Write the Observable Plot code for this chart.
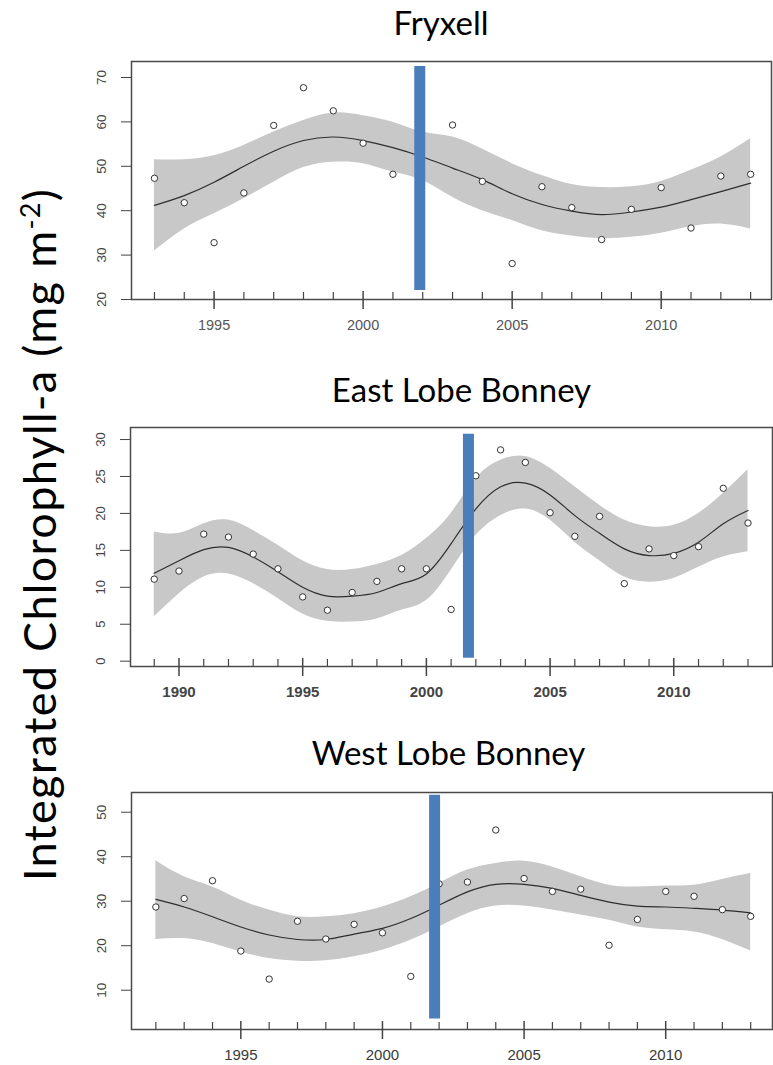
<!DOCTYPE html>
<html>
<head>
<meta charset="utf-8">
<script src="https://cdn.jsdelivr.net/npm/d3@7"></script>
<script src="https://cdn.jsdelivr.net/npm/@observablehq/plot@0.6"></script>
<style>
  body { margin: 0; background: #fff; }
  #wrap { position: relative; width: 773px; height: 1065px; overflow: hidden; background: #fff; }
  .title { position: absolute; font-family: Lato, "Open Sans", sans-serif; font-size: 33px; line-height: 1; color: #000; white-space: nowrap; transform: translateX(-50%); }
  .panel { position: absolute; left: 0; }
  #ylab { position: absolute; width: 800px; text-align: center; font-family: Lato, "Open Sans", sans-serif; font-size: 45px; letter-spacing: 1.3px; line-height: 1; height: 45px; color: #000; white-space: nowrap; transform: rotate(-90deg); transform-origin: 50% 50%; }
  #ylab .sup { font-size: 0.6em; vertical-align: 0.6em; }
</style>
</head>
<body>
<div id="wrap"></div>
<script>
// ---------------- Fryxell ----------------
const fryxPtYears = [1993, 1994, 1995, 1996, 1997, 1998, 1999, 2000, 2001, 2003, 2004, 2005, 2006, 2007, 2008, 2009, 2010, 2011, 2012, 2013];
const fryxPtVals  = [47.3, 41.8, 32.8, 44.0, 59.2, 67.7, 62.5, 55.2, 48.2, 59.3, 46.6, 28.1, 45.4, 40.7, 33.5, 40.3, 45.2, 36.1, 47.8, 48.2];
const fryxFitYears = [1993, 1994, 1995, 1996, 1997, 1998, 1999, 2000, 2001, 2002, 2003, 2004, 2005, 2006, 2007, 2008, 2009, 2010, 2011, 2012, 2013];
const fryxFit = [41.2, 43.4, 46.4, 50.0, 53.4, 55.8, 56.6, 55.8, 54.2, 52.1, 49.6, 47.0, 43.8, 41.4, 39.9, 39.1, 39.7, 40.8, 42.5, 44.3, 46.2];
const fryxHi  = [51.5, 51.5, 52.4, 54.7, 57.7, 60.3, 62.0, 61.4, 59.9, 57.7, 56.6, 53.9, 50.6, 47.9, 45.9, 45.2, 45.4, 46.6, 49.1, 52.1, 56.2];
const fryxLo  = [30.9, 35.9, 39.3, 42.7, 46.4, 49.7, 50.9, 50.6, 48.7, 46.8, 43.0, 40.0, 37.8, 35.5, 34.3, 33.7, 34.0, 34.9, 36.4, 37.0, 35.9];
const fryxYTicks = [20, 30, 40, 50, 60, 70];
const fryxXMajor = [1995, 2000, 2005, 2010];
const fryxXMinor = [1993, 1994, 1996, 1997, 1998, 1999, 2001, 2002, 2003, 2004, 2006, 2007, 2008, 2009, 2011, 2012, 2013];
const fryxBar = { year: 2001.9, lo: 22, hi: 72.5 };

// ---------------- East Lobe Bonney ----------------
const eastPtYears = [1989, 1990, 1991, 1992, 1993, 1994, 1995, 1996, 1997, 1998, 1999, 2000, 2001, 2002, 2003, 2004, 2005, 2006, 2007, 2008, 2009, 2010, 2011, 2012, 2013];
const eastPtVals  = [11.1, 12.2, 17.2, 16.8, 14.5, 12.5, 8.7, 6.9, 9.3, 10.8, 12.5, 12.5, 7.0, 25.1, 28.6, 26.9, 20.1, 16.9, 19.6, 10.5, 15.2, 14.3, 15.5, 23.4, 18.7];
const eastFitYears = [1989, 1990, 1991, 1992, 1993, 1994, 1995, 1996, 1997, 1998, 1999, 2000, 2001, 2002, 2003, 2004, 2005, 2006, 2007, 2008, 2009, 2010, 2011, 2012, 2013];
const eastFit = [11.9, 13.6, 15.1, 15.4, 14.1, 12.1, 10.0, 8.8, 8.8, 9.3, 10.5, 11.8, 15.9, 20.6, 23.6, 24.1, 22.5, 19.7, 17.3, 15.2, 14.3, 14.6, 16.1, 18.6, 20.4];
const eastHi  = [17.5, 17.3, 18.6, 19.1, 17.7, 15.7, 13.6, 12.4, 12.4, 13.1, 14.3, 16.6, 20.0, 24.7, 27.2, 27.7, 26.1, 23.6, 21.1, 19.1, 18.2, 18.4, 20.0, 22.7, 25.9];
const eastLo  = [6.0, 9.1, 11.4, 11.8, 10.5, 8.5, 6.4, 5.4, 5.3, 5.7, 6.9, 8.2, 12.3, 17.0, 19.7, 20.6, 19.1, 16.1, 13.6, 11.4, 10.7, 11.2, 12.7, 14.1, 14.8];
const eastYTicks = [0, 5, 10, 15, 20, 25, 30];
const eastXMajor = [1990, 1995, 2000, 2005, 2010];
const eastXMinor = [1989, 1991, 1992, 1993, 1994, 1996, 1997, 1998, 1999, 2001, 2002, 2003, 2004, 2006, 2007, 2008, 2009, 2011, 2012, 2013];
const eastBar = { year: 2001.7, lo: 0.4, hi: 30.7 };

// ---------------- West Lobe Bonney ----------------
const westPtYears = [1992, 1993, 1994, 1995, 1996, 1997, 1998, 1999, 2000, 2001, 2002, 2003, 2004, 2005, 2006, 2007, 2008, 2009, 2010, 2011, 2012, 2013];
const westPtVals  = [28.7, 30.6, 34.6, 18.8, 12.5, 25.5, 21.5, 24.8, 22.9, 13.1, 33.9, 34.3, 46.0, 35.1, 32.2, 32.7, 20.1, 25.9, 32.2, 31.1, 28.1, 26.6];
const westFitYears = [1992, 1993, 1994, 1995, 1996, 1997, 1998, 1999, 2000, 2001, 2002, 2003, 2004, 2005, 2006, 2007, 2008, 2009, 2010, 2011, 2012, 2013];
const westFit = [30.4, 28.7, 26.5, 24.2, 22.4, 21.4, 21.4, 22.6, 23.9, 26.1, 29.1, 32.1, 33.8, 33.8, 32.9, 31.3, 29.8, 28.9, 28.7, 28.4, 28.0, 27.4];
const westHi  = [39.1, 35.5, 33.2, 30.2, 28.0, 26.5, 26.5, 27.2, 28.7, 31.0, 34.0, 37.0, 38.5, 39.0, 37.7, 35.5, 33.6, 33.2, 33.4, 33.6, 34.9, 36.2];
const westLo  = [21.4, 21.6, 20.5, 18.6, 17.1, 16.5, 16.6, 17.5, 19.0, 21.2, 24.2, 27.2, 28.9, 28.9, 28.0, 26.9, 25.7, 24.2, 23.6, 23.1, 21.4, 18.8];
const westYTicks = [10, 20, 30, 40, 50];
const westXMajor = [1995, 2000, 2005, 2010];
const westXMinor = [1992, 1993, 1994, 1996, 1997, 1998, 1999, 2001, 2002, 2003, 2004, 2006, 2007, 2008, 2009, 2011, 2012, 2013];
const westBar = { year: 2001.84, lo: 3.55, hi: 53.8 };

const titles = ["Fryxell", "East Lobe Bonney", "West Lobe Bonney"];
const yLabelMain = "Integrated Chlorophyll-a (mg m";
const yLabelSup = "-2";

const wrap = document.getElementById("wrap");

function makePanel(o) {
  const pts = o.ptYears.map((y, i) => ({ year: y, val: o.ptVals[i] }));
  const fit = o.fitYears.map((y, i) => ({ year: y, fit: o.fit[i], lo: o.lo[i], hi: o.hi[i] }));
  const y0 = o.yDomain[0];
  const boxH = o.boxBottom - o.boxTop;
  const chart = Plot.plot({
    width: 773,
    height: 5 + boxH + 40,
    marginTop: 5,
    marginBottom: 40,
    marginLeft: o.boxLeft,
    marginRight: 773 - o.boxRight,
    style: { background: "transparent", overflow: "visible" },
    x: { domain: o.xDomain, axis: null },
    y: { domain: o.yDomain, axis: null },
    marks: [
      Plot.areaY(fit, { x: "year", y1: "lo", y2: "hi", fill: "#c8c8c8", curve: "natural" }),
      Plot.lineY(fit, { x: "year", y: "fit", stroke: "#2e2e2e", strokeWidth: 1.2, curve: "natural" }),
      Plot.dot(pts, { x: "year", y: "val", r: 3.2, stroke: "#333", strokeWidth: 1, fill: "white" }),
      Plot.ruleX([o.bar], { x: "year", y1: "lo", y2: "hi", stroke: "#4a7ebb", strokeWidth: 11 }),
      Plot.frame({ stroke: "#4a4a4a", strokeWidth: 1.5 }),
      Plot.axisY({ ticks: o.yTicks, tickSize: 10, tickFormat: () => "", stroke: "#444", label: null }),
      // minor year ticks: pointing inward (up) from the bottom axis
      Plot.ruleX(o.xMinor, { x: d => d, y1: y0, y2: y0, insetTop: -7, stroke: "#444", strokeWidth: 1.2 }),
      // major year ticks: crossing the bottom axis
      Plot.ruleX(o.xMajor, { x: d => d, y1: y0, y2: y0, insetTop: -8, insetBottom: -10, stroke: "#444", strokeWidth: 1.5 }),
      Plot.text(o.xMajor, { x: d => d, text: d => String(d), frameAnchor: "bottom", dy: 26, lineAnchor: "middle",
        fontSize: o.xFont, fontWeight: o.xWeight, fill: o.xFill, fontFamily: "Liberation Sans, Arial, sans-serif" }),
      Plot.text(o.yTicks, { y: d => d, text: d => String(d), frameAnchor: "left", dx: -30, rotate: -90,
        textAnchor: "middle", lineAnchor: "middle", fontSize: o.yFont, fill: "#444", fontFamily: "Liberation Sans, Arial, sans-serif" })
    ]
  });
  chart.classList.add("panel");
  chart.style.top = (o.boxTop - 5) + "px";
  wrap.appendChild(chart);
}

makePanel({
  ptYears: fryxPtYears, ptVals: fryxPtVals, fitYears: fryxFitYears, fit: fryxFit, lo: fryxLo, hi: fryxHi,
  yTicks: fryxYTicks, xMajor: fryxXMajor, xMinor: fryxXMinor, bar: fryxBar,
  boxLeft: 131, boxRight: 771, boxTop: 61, boxBottom: 299,
  xDomain: [1992.23, 2013.70], yDomain: [20, 73.6],
  xFont: 14.5, xWeight: "normal", xFill: "#555", yFont: 13.5
});
makePanel({
  ptYears: eastPtYears, ptVals: eastPtVals, fitYears: eastFitYears, fit: eastFit, lo: eastLo, hi: eastHi,
  yTicks: eastYTicks, xMajor: eastXMajor, xMinor: eastXMinor, bar: eastBar,
  boxLeft: 130, boxRight: 772, boxTop: 427, boxBottom: 666,
  xDomain: [1988.04, 2013.99], yDomain: [-0.72, 31.63],
  xFont: 15, xWeight: "bold", xFill: "#444", yFont: 13
});
makePanel({
  ptYears: westPtYears, ptVals: westPtVals, fitYears: westFitYears, fit: westFit, lo: westLo, hi: westHi,
  yTicks: westYTicks, xMajor: westXMajor, xMinor: westXMinor, bar: westBar,
  boxLeft: 131, boxRight: 772, boxTop: 792, boxBottom: 1029,
  xDomain: [1991.14, 2013.77], yDomain: [1.17, 54.43],
  xFont: 15, xWeight: "normal", xFill: "#3a3a3a", yFont: 13.5
});

// Titles
const titlePos = [[441, 6], [461.5, 372.5], [448.5, 736]];
titles.forEach((t, i) => {
  const d = document.createElement("div");
  d.className = "title";
  d.textContent = t;
  d.style.left = titlePos[i][0] + "px";
  d.style.top = titlePos[i][1] + "px";
  wrap.appendChild(d);
});

// Shared y-axis label
const yl = document.createElement("div");
yl.id = "ylab";
yl.appendChild(document.createTextNode(yLabelMain));
const sup = document.createElement("span");
sup.className = "sup";
sup.textContent = yLabelSup;
yl.appendChild(sup);
yl.appendChild(document.createTextNode(")"));
yl.style.left = (38 - 400) + "px";
yl.style.top = (534 - 22.5) + "px";
wrap.appendChild(yl);
</script>
</body>
</html>
